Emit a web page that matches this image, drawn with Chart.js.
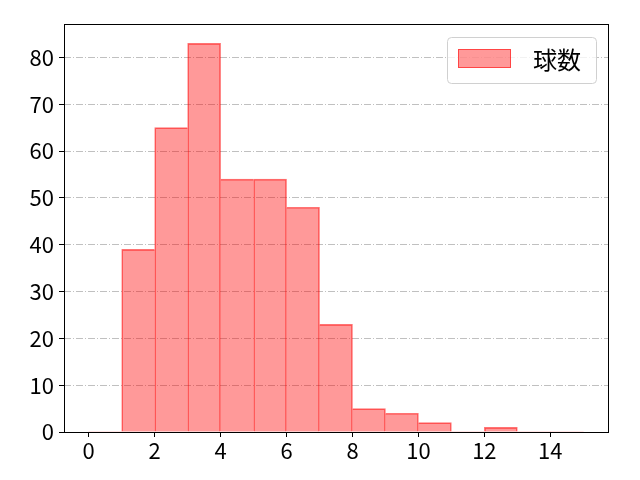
<!DOCTYPE html>
<html>
<head>
<meta charset="utf-8">
<script src="https://cdn.jsdelivr.net/npm/chart.js@4"></script>
<style>
  html, body { margin: 0; padding: 0; background: #fff; }
  #wrap { width: 640px; height: 480px; position: relative; }
</style>
</head>
<body>
<div id="wrap"><canvas id="chart" width="640" height="480"></canvas></div>
<script>
  // histogram bins (left edge) and counts
  const binStarts = [0, 1, 2, 3, 4, 5, 6, 7, 8, 9, 10, 11, 12, 13, 14];
  const counts = [0, 39, 65, 83, 54, 54, 48, 23, 5, 4, 2, 0, 1, 0, 0];
  const xTicks = [0, 2, 4, 6, 8, 10, 12, 14];
  const yTicks = [0, 10, 20, 30, 40, 50, 60, 70, 80];
  const seriesLabel = "球数";

  const FONT = "'Noto Sans CJK JP', 'DejaVu Sans', sans-serif";
  const EDGE = "rgba(255, 0, 0, 0.55)";

  // shared edges between neighbouring bars are drawn once, by the taller bar
  const edgeWidths = (c) => {
    const i = c.dataIndex;
    const v = counts[i];
    if (!v) return 0;
    const prev = i > 0 ? counts[i - 1] : 0;
    const next = i < counts.length - 1 ? counts[i + 1] : 0;
    return { top: 1, bottom: 0, left: v >= prev ? 1 : 0, right: v > next ? 1 : 0 };
  };

  // legend box drawn inside the plot area, top right
  const insideLegend = {
    id: "insideLegend",
    afterDraw(chart) {
      const ctx = chart.ctx;
      const ds = chart.data.datasets[0];
      const x = 447, y = 37, w = 149, h = 46;
      ctx.save();
      ctx.beginPath();
      ctx.roundRect(x + 0.5, y + 0.5, w, h, 4);
      ctx.fillStyle = "rgba(255,255,255,0.8)";
      ctx.fill();
      ctx.strokeStyle = "#d0d0d0";
      ctx.lineWidth = 1;
      ctx.stroke();
      ctx.fillStyle = ds.backgroundColor;
      ctx.fillRect(458, 49, 53, 19);
      ctx.strokeStyle = EDGE;
      ctx.strokeRect(458.5, 49.5, 52, 18);
      ctx.fillStyle = "#000";
      ctx.font = "24px " + FONT;
      ctx.textBaseline = "middle";
      ctx.fillText(ds.label, 533, 60);
      ctx.restore();
    }
  };

  // black frame around the plot area
  const frame = {
    id: "frame",
    afterDraw(chart) {
      const a = chart.chartArea, ctx = chart.ctx;
      ctx.save();
      ctx.strokeStyle = "#000";
      ctx.lineWidth = 1;
      ctx.strokeRect(Math.round(a.left) + 0.5, Math.round(a.top) + 0.5, Math.round(a.right - a.left), Math.round(a.bottom - a.top));
      ctx.restore();
    }
  };

  new Chart(document.getElementById("chart"), {
    type: "bar",
    data: {
      datasets: [{
        label: seriesLabel,
        data: binStarts.map((b, i) => ({ x: b + 0.5, y: counts[i] })),
        backgroundColor: "rgba(255, 0, 0, 0.4)",
        borderColor: EDGE,
        borderWidth: edgeWidths,
        borderSkipped: false,
        barPercentage: 1,
        categoryPercentage: 1,
        grouped: false
      }]
    },
    options: {
      responsive: false,
      animation: false,
      devicePixelRatio: 1,
      layout: { padding: { top: 24, right: 32, left: 0, bottom: 0 } },
      plugins: { legend: { display: false }, tooltip: { enabled: false } },
      scales: {
        x: {
          type: "linear",
          offset: false,
          min: -0.75,
          max: 15.75,
          afterBuildTicks: (s) => { s.ticks = xTicks.map(v => ({ value: v })); },
          afterFit: (s) => { s.height = 48; },
          grid: { offset: false, drawOnChartArea: false, drawTicks: true, tickLength: 5, tickColor: "#000" },
          border: { display: false },
          ticks: { color: "#000", font: { family: FONT, size: 22 }, padding: 0, maxRotation: 0 }
        },
        y: {
          min: 0,
          max: 87.15,
          afterBuildTicks: (s) => { s.ticks = yTicks.map(v => ({ value: v })); },
          afterFit: (s) => { s.width = 64; },
          grid: {
            color: "#b0b0b0",
            lineWidth: 0.8,
            drawTicks: true,
            tickLength: 5,
            tickColor: "#000",
            tickWidth: 1,
            tickBorderDash: []
          },
          border: { display: false, dash: [7, 2, 1, 2] },
          ticks: { color: "#000", font: { family: FONT, size: 22 }, padding: 5 }
        }
      }
    },
    plugins: [insideLegend, frame]
  });
</script>
</body>
</html>
